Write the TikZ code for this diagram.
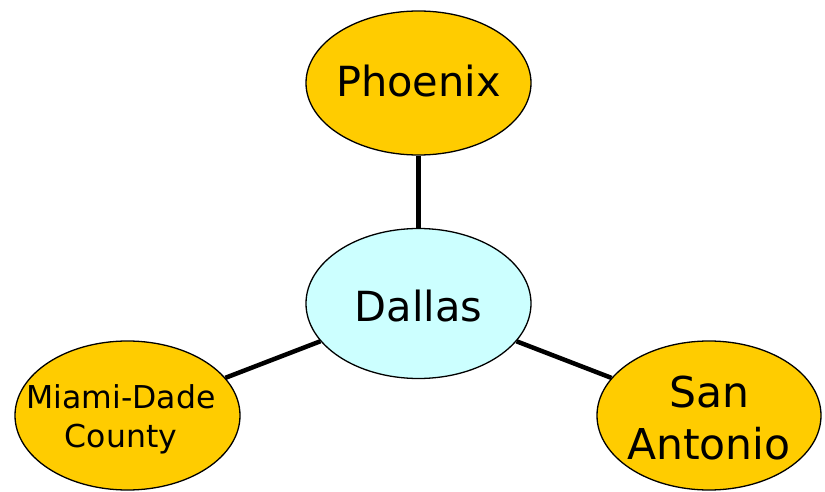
\documentclass[tikz,border=0pt]{standalone}
\usepackage{fontspec}
\setmainfont{DejaVu Sans}
\usetikzlibrary{shapes.geometric}
\definecolor{gold}{HTML}{FFCC00}
\definecolor{lcyan}{HTML}{CCFFFF}
\begin{document}
\begin{tikzpicture}[x=1pt,y=-1pt,
  city/.style={ellipse, draw=black, line width=1.3pt, fill=gold, inner sep=0pt},
  lbl/.style={align=center, inner sep=0pt},
  link/.style={line width=4.5pt}]
\useasboundingbox (0,0) rectangle (825,492);
\node[city, minimum width=225pt, minimum height=144pt] (phx) at (418.5,83) {};
\node[city, fill=lcyan, minimum width=225pt, minimum height=150pt] (dal) at (418.5,303.5) {};
\node[city, minimum width=225pt, minimum height=149pt] (mia) at (127.5,415.5) {};
\node[city, minimum width=224pt, minimum height=149pt] (san) at (709,415.5) {};
\node[lbl, font=\fontsize{41.5}{48}\selectfont, anchor=base] (phxt) at (418.5,97) {Phoenix};
\node[lbl, font=\fontsize{41.5}{48}\selectfont, anchor=base] (dalt) at (418.5,321) {Dallas};
\node[lbl, font=\fontsize{31.5}{39}\selectfont, anchor=base] (miat) at (121,447) {Miami-Dade\\County};
\node[lbl, font=\fontsize{42.5}{52}\selectfont, anchor=base] (sant) at (709,459) {San\\Antonio};
\draw[link] (phx) -- (dal);
\draw[link] (dal) -- (mia);
\draw[link] (dal) -- (san);
\end{tikzpicture}
\end{document}
